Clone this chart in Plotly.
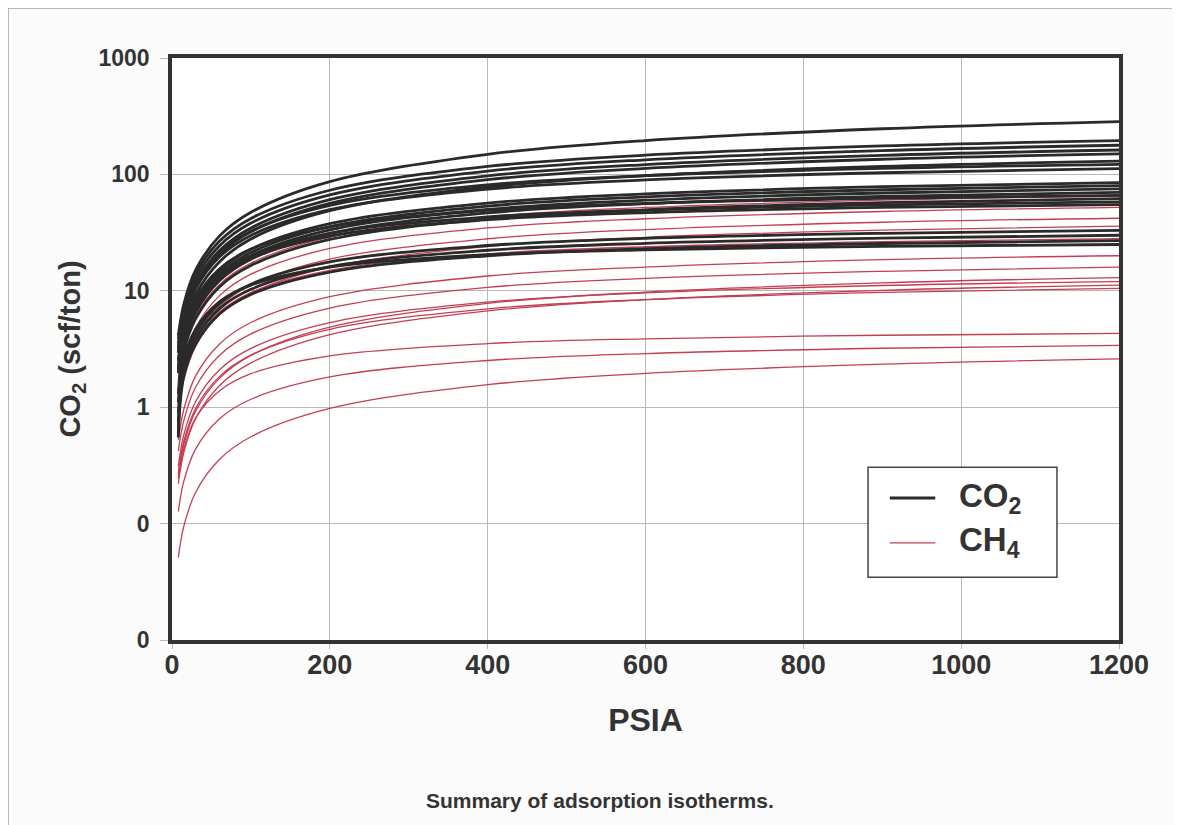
import plotly.graph_objects as go

psia = [8, 15, 30, 60, 100, 200, 400, 600, 900, 1200]

# CO2 isotherms (scf/ton)
co2_01 = [4.13, 7.69, 15.1, 29.5, 47.3, 86.8, 148.7, 195.2, 246.6, 284]
co2_02 = [3.85, 7.14, 13.9, 26.6, 41.8, 73.1, 117, 146.3, 175.5, 195]
co2_03 = [3.51, 6.51, 12.7, 24.3, 38.2, 66.8, 106.8, 133.5, 160.2, 178]
co2_04 = [3.20, 5.93, 11.6, 22.1, 34.7, 60.8, 97.2, 121.5, 145.8, 162]
co2_05 = [2.96, 5.49, 10.7, 20.5, 32.2, 56.3, 90, 112.5, 135, 150]
co2_06 = [2.57, 4.76, 9.28, 17.7, 27.9, 48.8, 78, 97.5, 117, 130]
co2_07 = [3.19, 5.87, 11.4, 21.2, 32.5, 54.2, 81.4, 97.6, 112.6, 122]
co2_08 = [2.93, 5.39, 10.4, 19.5, 29.9, 49.7, 74.7, 89.6, 103.3, 112]
co2_09 = [2.22, 4.09, 7.91, 14.8, 22.7, 37.7, 56.7, 68, 78.4, 85]
co2_10 = [2.09, 3.85, 7.45, 13.9, 21.3, 35.5, 53.4, 64, 73.8, 80]
co2_11 = [1.96, 3.61, 6.98, 13.0, 20, 33.3, 50, 60, 69.2, 75]
co2_12 = [1.3, 3.37, 6.51, 12.2, 18.7, 31.1, 46.7, 56, 64.6, 70]
co2_13 = [2.47, 4.51, 8.53, 15.4, 22.8, 35.4, 49, 56.3, 62.4, 66]
co2_14 = [1.1, 2.99, 5.77, 10.8, 16.5, 27.6, 41.4, 49.6, 57.2, 62]
co2_15 = [2.17, 3.96, 7.49, 13.5, 20, 31.1, 43.1, 49.4, 54.8, 58]
co2_16 = [2.06, 3.76, 7.10, 12.8, 19.0, 29.5, 40.8, 46.9, 52.0, 55]
co2_17 = [0.9, 2.26, 4.27, 7.72, 11.4, 17.7, 24.5, 28.2, 31.2, 33]
co2_18 = [0.75, 2.05, 3.87, 7.0, 10.3, 16.1, 22.3, 25.6, 28.3, 30]
co2_19 = [0.6, 1.85, 3.49, 6.31, 9.31, 14.5, 20.0, 23.0, 25.5, 27]
co2_20 = [0.55, 2.55, 4.68, 8.03, 11.2, 16.0, 20.4, 22.5, 24.1, 25]

# CH4 isotherms (scf/ton)
ch4_01 = [1.36, 2.50, 4.84, 9.04, 13.9, 23.1, 34.7, 41.6, 48.0, 52]
ch4_02 = [1.10, 2.02, 3.91, 7.30, 11.2, 18.7, 28, 33.6, 38.8, 42]
ch4_03 = [0.94, 1.73, 3.35, 6.26, 9.6, 16.0, 24, 28.8, 33.2, 36]
ch4_04 = [0.52, 0.96, 1.86, 3.48, 5.34, 8.9, 13.4, 16.0, 18.5, 20]
ch4_05 = [0.42, 0.77, 1.49, 2.78, 4.26, 7.10, 10.7, 12.8, 14.7, 16]
ch4_06 = [0.26, 0.48, 0.93, 1.77, 2.79, 4.88, 7.8, 9.75, 11.7, 13]
ch4_07 = [0.31, 0.58, 1.12, 2.09, 3.2, 5.33, 8.0, 9.6, 11.1, 12]
ch4_08 = [0.22, 0.41, 0.80, 1.53, 2.40, 4.2, 6.72, 8.4, 10.1, 11.2]
ch4_09 = [0.27, 0.51, 0.98, 1.83, 2.8, 4.67, 7.0, 8.4, 9.69, 10.5]
ch4_10 = [0.245, 0.44, 0.81, 1.38, 1.94, 2.76, 3.52, 3.87, 4.15, 4.3]
ch4_11 = [0.127, 0.232, 0.439, 0.793, 1.17, 1.82, 2.52, 2.89, 3.21, 3.4]
ch4_12 = [0.051, 0.095, 0.186, 0.355, 0.557, 0.975, 1.56, 1.95, 2.34, 2.6]
ch4_13 = [1.70, 3.13, 6.05, 11.3, 17.3, 28.9, 43.4, 52, 60, 65]
ch4_14 = [1.05, 1.91, 3.62, 6.54, 9.66, 15.0, 20.8, 23.9, 26.5, 28]

co2_series = [co2_01, co2_02, co2_03, co2_04, co2_05, co2_06, co2_07, co2_08, co2_09, co2_10,
              co2_11, co2_12, co2_13, co2_14, co2_15, co2_16, co2_17, co2_18, co2_19, co2_20]
ch4_series = [ch4_01, ch4_02, ch4_03, ch4_04, ch4_05, ch4_06, ch4_07, ch4_08, ch4_09, ch4_10,
              ch4_11, ch4_12, ch4_13, ch4_14]

x_ticks = [0, 200, 400, 600, 800, 1000, 1200]
y_tickvals = [0.01, 0.1, 1, 10, 100, 1000]
y_ticktext = ["0", "0", "1", "10", "100", "1000"]
legend_labels = ["CO<sub>2</sub>", "CH<sub>4</sub>"]

BLACK = "#2a2a2a"
RED = "rgb(196,62,82)"
FONT = "Liberation Sans, Arial, Helvetica, sans-serif"
TXT = "#333333"

fig = go.Figure()

for ys in ch4_series:
    fig.add_trace(go.Scatter(
        x=psia, y=ys, mode="lines",
        line=dict(color=RED, width=1.3, shape="spline", smoothing=1.0),
        name="CH4", showlegend=False, hoverinfo="skip"))

for ys in co2_series:
    fig.add_trace(go.Scatter(
        x=psia, y=ys, mode="lines",
        line=dict(color=BLACK, width=2.8, shape="spline", smoothing=1.0),
        name="CO2", showlegend=False, hoverinfo="skip"))

# boxed key (drawn in paper coordinates, lower right of the plot)
key_shapes = [
    dict(type="rect", xref="paper", yref="paper", x0=0.735, x1=0.9345, y0=0.108, y1=0.297,
         fillcolor="white", line=dict(color="#444444", width=1.5), layer="above"),
    dict(type="line", xref="paper", yref="paper", x0=0.758, x1=0.806, y0=0.244, y1=0.244,
         line=dict(color=BLACK, width=3.2), layer="above"),
    dict(type="line", xref="paper", yref="paper", x0=0.758, x1=0.806, y0=0.167, y1=0.167,
         line=dict(color=RED, width=1.3), layer="above"),
]
key_texts = [
    dict(text=legend_labels[0], xref="paper", yref="paper", x=0.829, y=0.244,
         xanchor="left", yanchor="middle", showarrow=False,
         font=dict(size=33, family=FONT, color=TXT, weight="bold")),
    dict(text=legend_labels[1], xref="paper", yref="paper", x=0.829, y=0.169,
         xanchor="left", yanchor="middle", showarrow=False,
         font=dict(size=33, family=FONT, color=TXT, weight="bold")),
]

# scanned-page frame: top and left edges only
frame_shapes = [
    dict(type="line", xref="paper", yref="paper", x0=-0.1732, x1=1.056, y0=1.0859, y1=1.0859,
         line=dict(color="#a0a0a0", width=1.5), layer="below"),
    dict(type="line", xref="paper", yref="paper", x0=-0.1732, x1=-0.1732, y0=1.0859, y1=-0.33,
         line=dict(color="#a0a0a0", width=1.5), layer="below"),
]

# page body has an 8px margin; figure is sized so the plot area lands at
# x 172-1119, y 58-640 of the browser window
fig.update_layout(
    width=1165, height=817,
    margin=dict(l=164, r=54, t=50, b=185),
    paper_bgcolor="#fbfbfb",
    plot_bgcolor="white",
    showlegend=False,
    font=dict(family=FONT, color=TXT, weight="bold"),
    xaxis=dict(
        range=[0, 1200], tickvals=x_ticks,
        showgrid=True, gridcolor="#b8b8b8", gridwidth=1.2,
        ticks="outside", ticklen=5, tickcolor="#b8b8b8", tickwidth=1.2,
        showline=True, linecolor=TXT, linewidth=3.5, mirror=True,
        zeroline=False, ticklabelstandoff=-7,
        tickfont=dict(size=27, family=FONT, color=TXT, weight="bold"),
        title=dict(text="PSIA", standoff=30,
                   font=dict(size=32, family=FONT, color=TXT, weight="bold")),
    ),
    yaxis=dict(
        type="log", range=[-2, 3], tickvals=y_tickvals, ticktext=y_ticktext,
        showgrid=True, gridcolor="#b8b8b8", gridwidth=1.2,
        ticks="outside", ticklen=8, tickcolor="#b8b8b8", tickwidth=1.2,
        showline=True, linecolor=TXT, linewidth=3.5, mirror=True,
        zeroline=False, ticklabelstandoff=6,
        tickfont=dict(size=23, family=FONT, color=TXT, weight="bold"),
        title=dict(text="CO<sub>2</sub> (scf/ton)", standoff=10,
                   font=dict(size=29, family=FONT, color=TXT, weight="bold")),
    ),
    annotations=[dict(
        text="Summary of adsorption isotherms.", xref="paper", yref="paper",
        x=0.452, y=-0.275, xanchor="center", yanchor="middle", showarrow=False,
        font=dict(size=21, family=FONT, color=TXT, weight="bold"))] + key_texts,
    shapes=frame_shapes + key_shapes,
)

fig.write_html("out.html")
